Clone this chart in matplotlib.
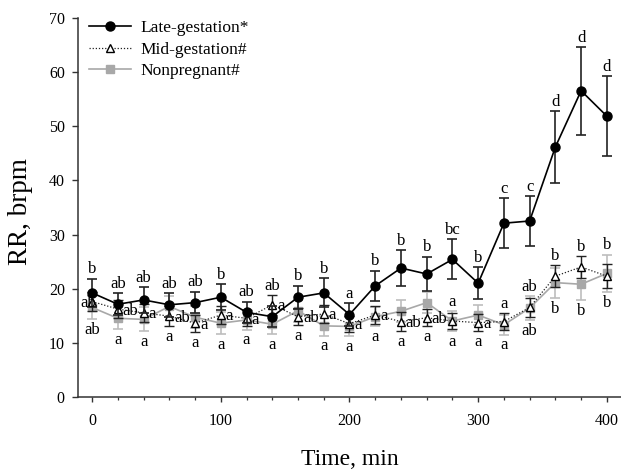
import numpy as np
import matplotlib
matplotlib.use("Agg")
import matplotlib.pyplot as plt
from matplotlib.lines import Line2D

# ===================== data =====================
time_min = [0, 20, 40, 60, 80, 100, 120, 140, 160, 180, 200,
            220, 240, 260, 280, 300, 320, 340, 360, 380, 400]

late_mean = [19.2, 17.1, 17.9, 17.0, 17.4, 18.4, 15.6, 14.8, 18.4, 19.2, 15.2,
             20.5, 23.8, 22.7, 25.4, 21.0, 32.1, 32.5, 46.2, 56.6, 51.9]
late_se = [2.6, 2.0, 2.4, 2.2, 2.0, 2.4, 2.0, 2.0, 2.1, 2.7, 2.1,
           2.8, 3.3, 3.2, 3.7, 3.0, 4.6, 4.6, 6.6, 8.1, 7.4]

mid_mean = [17.6, 16.2, 15.5, 14.9, 13.6, 15.1, 14.5, 17.0, 14.8, 15.3, 13.5,
            15.1, 13.9, 14.6, 14.0, 13.7, 13.9, 16.5, 22.3, 24.0, 22.3]
mid_se = [1.8, 1.6, 1.6, 1.8, 1.6, 1.6, 1.5, 1.8, 1.6, 1.6, 1.5,
          1.6, 1.8, 1.6, 1.5, 1.6, 1.5, 1.8, 2.0, 2.0, 2.2]

non_mean = [16.5, 14.5, 14.3, 16.7, 14.7, 13.6, 14.2, 13.4, 15.9, 13.1, 13.0,
            14.8, 15.8, 17.4, 14.0, 15.1, 13.3, 16.4, 21.1, 20.8, 22.8]
non_se = [2.2, 2.0, 2.2, 2.0, 2.0, 2.0, 1.8, 1.8, 2.0, 1.8, 1.8,
          1.8, 2.0, 2.0, 1.8, 1.8, 1.8, 2.2, 2.8, 2.9, 3.5]

# 显著性字母
late_lbl = ['b', 'ab', 'ab', 'ab', 'ab', 'b', 'ab', 'ab', 'b', 'b', 'a',
            'b', 'b', 'b', 'bc', 'b', 'c', 'c', 'd', 'd', 'd']
mid_lbl = ['ab', 'ab', 'a', 'ab', 'a', 'a', 'a', 'a', 'ab', 'a', 'a',
           'a', 'ab', 'ab', 'a', 'a', 'a', 'ab', 'b', 'b', 'b']
non_lbl = ['ab', 'a', 'a', 'a', 'a', 'a', 'a', 'a', 'a', 'a', 'a',
           'a', 'a', 'a', 'a', 'a', 'a', 'ab', 'b', 'b', 'b']

series_names = ['Late-gestation*', 'Mid-gestation#', 'Nonpregnant#']

# ===================== plot =====================
plt.rcParams['font.family'] = ['Liberation Serif', 'DejaVu Serif']

fig = plt.figure(figsize=(6.21, 4.70), dpi=100)
ax = fig.add_axes([0.1256, 0.156, 0.8744, 0.805])

t = np.array(time_min)
late_m, late_e = np.array(late_mean), np.array(late_se)
mid_m, mid_e = np.array(mid_mean), np.array(mid_se)
non_m, non_e = np.array(non_mean), np.array(non_se)

gray = '#a8a8a8'
dotted = (0, (1, 1.5))

ax.errorbar(t, non_m, yerr=non_e, color=gray, ecolor='#bdbdbd', lw=1.2,
            elinewidth=1.2, capsize=3.8, capthick=1.2, marker='s',
            ms=5.8, mfc=gray, mec=gray, zorder=2)
ax.errorbar(t, mid_m, yerr=mid_e, color='#222222', ecolor='#222222',
            lw=0.9, ls=dotted, elinewidth=1.0, capsize=3.8,
            capthick=1.0, marker='^', ms=6, mfc='white', mec='black',
            mew=1.0, zorder=3)
ax.errorbar(t, late_m, yerr=late_e, color='black', ecolor='#222222',
            lw=1.2, elinewidth=1.2, capsize=3.8, capthick=1.2,
            marker='o', ms=6.5, mfc='black', mec='black', zorder=4)

# 字母标注
lbl_fs = 12
for i, ti in enumerate(t):
    top = max(late_m[i] + late_e[i], mid_m[i] + mid_e[i])
    ax.annotate(late_lbl[i], (ti, top), xytext=(0, 1), textcoords='offset points',
                ha='center', va='bottom', fontsize=lbl_fs, zorder=6)

    if ti == 0:
        ax.annotate(mid_lbl[i], (ti, mid_m[i]), xytext=(3, -1), textcoords='offset points',
                    ha='right', va='center', fontsize=lbl_fs, zorder=6)
    elif ti == 280 or ti >= 320:
        ax.annotate(mid_lbl[i], (ti, max(mid_m[i] + mid_e[i], non_m[i] + non_e[i])),
                    xytext=(0, 1), textcoords='offset points',
                    ha='center', va='bottom', fontsize=lbl_fs, zorder=6)
    else:
        ax.annotate(mid_lbl[i], (ti, mid_m[i]), xytext=(3.5, -1), textcoords='offset points',
                    ha='left', va='center', fontsize=lbl_fs, zorder=6)

    bot = min(non_m[i] - non_e[i], mid_m[i] - mid_e[i])
    ax.annotate(non_lbl[i], (ti, bot), xytext=(0, -2), textcoords='offset points',
                ha='center', va='top', fontsize=lbl_fs, zorder=6)

# 坐标轴
ax.set_xlim(-11, 411)
ax.set_ylim(0, 70)
ax.set_xticks([0, 100, 200, 300, 400])
ax.set_xticks(np.arange(20, 400, 20), minor=True)
ax.set_yticks(np.arange(0, 71, 10))
for s in ['top', 'right']:
    ax.spines[s].set_visible(False)
for s in ['left', 'bottom']:
    ax.spines[s].set_linewidth(1.1)
    ax.spines[s].set_color('#333333')
ax.tick_params(axis='x', which='major', direction='out', length=3.5, width=1.0,
               pad=8, labelsize=11.5, colors='#333333', labelcolor='black')
ax.tick_params(axis='x', which='minor', direction='out', length=2.5, width=0.9,
               colors='#333333')
ax.tick_params(axis='y', direction='out', length=4, width=1.0, pad=5.5,
               labelsize=11.5, colors='#333333', labelcolor='black')

ax.set_xlabel('Time, min', fontsize=17)
ax.xaxis.set_label_coords(0.5, -0.138)
ax.set_ylabel('RR, brpm', fontsize=19.5, va='center')
ax.yaxis.set_label_coords(-0.105, 0.488)

# 图例 (不带误差线)
leg_handles = [
    Line2D([], [], color='black', lw=1.2, marker='o', ms=6.5),
    Line2D([], [], color='#222222', lw=0.9, ls=dotted, marker='^', ms=6,
           mfc='white', mec='black'),
    Line2D([], [], color=gray, lw=1.2, marker='s', ms=5.8),
]
ax.legend(leg_handles, series_names, loc='upper left',
          bbox_to_anchor=(0.02, 0.995), frameon=False, fontsize=12.5,
          handlelength=2.4, handletextpad=0.6, labelspacing=0.3,
          borderpad=0, borderaxespad=0)

fig.savefig('out.png', dpi=100)
